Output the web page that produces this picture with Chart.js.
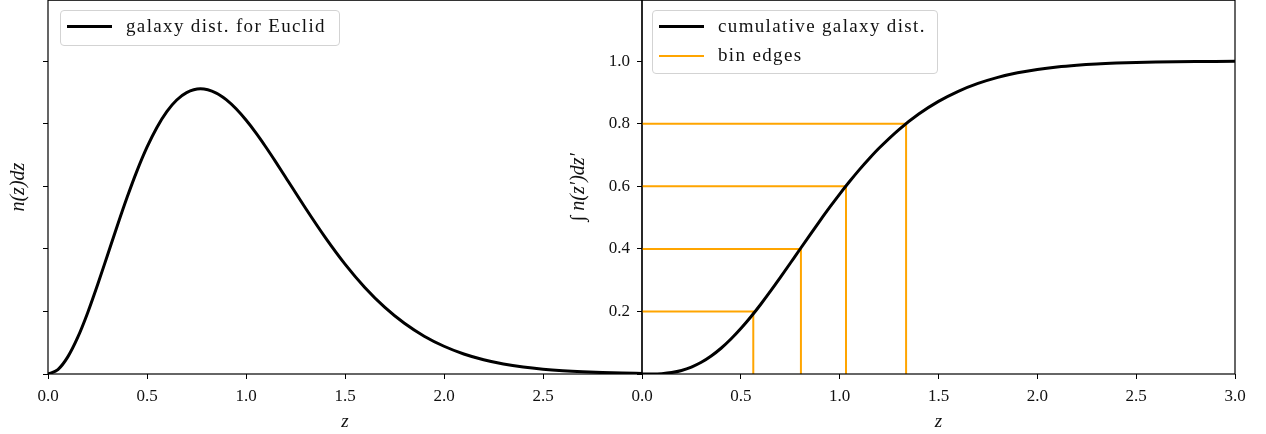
<!DOCTYPE html>
<html lang="en">
<head>
    <meta charset="UTF-8">
    <title>Euclid galaxy distribution</title>
    <script src="https://cdn.jsdelivr.net/npm/chart.js"></script>
    <style>
        body { margin: 0; background: #fff; font-family: "Liberation Serif", serif; }
        #wrap { position: relative; width: 1266px; height: 434px; overflow: hidden; }
        canvas { position: absolute; top: -17px; }
        .legend { position: absolute; border: 1px solid #d3d3d3; border-radius: 4px; background: rgba(255,255,255,0.8); }
        .legend .sw { position: absolute; left: 6px; width: 45px; }
        .legend .tx { position: absolute; left: 65px; font-size: 19px; letter-spacing: 1.35px; color: #111; white-space: nowrap; line-height: 22px; }
    </style>
</head>
<body>
<div id="wrap">
    <canvas id="left" width="650" height="451" style="left:0"></canvas>
    <canvas id="right" width="706" height="451" style="left:560px"></canvas>

    <div class="legend" style="left:60px; top:10px; width:278px; height:34px;">
        <div class="sw" style="top:14px; height:3px; background:#000;"></div>
        <div class="tx" style="top:4px;">galaxy dist. for Euclid</div>
    </div>
    <div class="legend" style="left:652px; top:10px; width:284px; height:62px;">
        <div class="sw" style="top:14px; height:3px; background:#000;"></div>
        <div class="tx" style="top:4px;">cumulative galaxy dist.</div>
        <div class="sw" style="top:44px; height:2px; background:orange;"></div>
        <div class="tx" style="top:33px;">bin edges</div>
    </div>
</div>

<script>
    // redshift grid and values
    const zGrid = [0.0, 0.05, 0.1, 0.15, 0.2, 0.25, 0.3, 0.35, 0.4, 0.45, 0.5, 0.55, 0.6,
                   0.65, 0.7, 0.77, 0.85, 0.9, 0.95, 1.0, 1.05, 1.1, 1.15, 1.2,
                   1.3, 1.4, 1.5, 1.6, 1.7, 1.8, 1.9, 2.0,
                   2.1, 2.2, 2.3, 2.4, 2.5, 2.6, 2.7, 2.8, 2.9, 3.0];
    const nzValues = [0, 0.0142, 0.0547, 0.1168, 0.1952, 0.2844, 0.3790, 0.4741, 0.5657, 0.6503, 0.7251, 0.7883, 0.8388,
                      0.8759, 0.8997, 0.9117, 0.8982, 0.8771, 0.8478, 0.8118, 0.7707, 0.7257, 0.6782, 0.6290,
                      0.5307, 0.4368, 0.3513, 0.2767, 0.2138, 0.1621, 0.1209, 0.0887,
                      0.0640, 0.0456, 0.0320, 0.0221, 0.0151, 0.0102, 0.0068, 0.0045, 0.0029, 0.0019];
    const cdfValues = [0, 0.0001, 0.0012, 0.0046, 0.0113, 0.0221, 0.0374, 0.0575, 0.0823, 0.1117, 0.1452, 0.1822, 0.2223,
                       0.2647, 0.3088, 0.3722, 0.4450, 0.4896, 0.5332, 0.5752, 0.6153, 0.6534, 0.6890, 0.7224,
                       0.7816, 0.8311, 0.8715, 0.9038, 0.9290, 0.9484, 0.9630, 0.9738,
                       0.9818, 0.9874, 0.9914, 0.9942, 0.9962, 0.9975, 0.9984, 0.9990, 0.9994, 0.9996];
    const binLevels = [0.2, 0.4, 0.6, 0.8];
    const binEdges = [0.563, 0.804, 1.032, 1.336];

    const FONT = "'Liberation Serif', serif";

    // draws the box around the plot area
    const frame = {
        id: 'frame',
        afterDraw(chart) {
            const a = chart.chartArea, c = chart.ctx;
            c.save();
            c.strokeStyle = '#000';
            c.lineWidth = 1.2;
            c.strokeRect(a.left, a.top, a.right - a.left, a.bottom - a.top);
            c.restore();
        }
    };

    function axes(yLabel, yWidth, titlePad, showYLabels, hideLastX) {
        return {
            x: {
                type: 'linear', min: 0, max: 3,
                afterFit: s => { s.height = 60; },
                border: { display: false },
                grid: { drawOnChartArea: false, tickLength: 5, tickColor: '#000', tickWidth: 1 },
                ticks: {
                    stepSize: 0.5, color: '#111', padding: 7, maxRotation: 0,
                    font: { family: FONT, size: 17 },
                    callback: v => (hideLastX && v >= 3) ? null : v.toFixed(1)
                },
                title: { display: true, text: 'z', color: '#111', padding: { top: 0, bottom: 1 },
                         font: { family: FONT, size: 19, style: 'italic' } }
            },
            y: {
                type: 'linear', min: 0, max: 1.195,
                afterFit: s => { s.width = yWidth; },
                border: { display: false },
                grid: { drawOnChartArea: false, tickLength: 5, tickColor: '#000', tickWidth: 1 },
                ticks: {
                    stepSize: 0.2, color: '#111', padding: 7,
                    font: { family: FONT, size: 17 },
                    callback: v => {
                        if (Math.abs(v * 5 - Math.round(v * 5)) > 1e-6) return null;
                        if (v === 0 && showYLabels) return '';
                        return showYLabels ? v.toFixed(1) : '';
                    }
                },
                title: { display: true, text: yLabel, color: '#111', padding: { top: titlePad, bottom: 0 },
                         font: { family: FONT, size: 20, style: 'italic' } }
            }
        };
    }

    const pts = vals => zGrid.map((z, i) => ({ x: z, y: vals[i] }));

    new Chart(document.getElementById('left'), {
        type: 'line',
        data: {
            datasets: [{
                data: pts(nzValues), borderColor: '#000', borderWidth: 3,
                pointRadius: 0, cubicInterpolationMode: 'monotone'
            }]
        },
        options: {
            responsive: false, animation: false,
            layout: { padding: { left: 0, right: 8, top: 0, bottom: 0 } },
            plugins: { legend: { display: false }, tooltip: { enabled: false } },
            scales: axes('n(z)dz', 48, 7, false, true)
        },
        plugins: [frame]
    });

    const binSets = binEdges.map((e, i) => ({
        data: [{ x: 0, y: binLevels[i] }, { x: e, y: binLevels[i] }, { x: e, y: 0 }],
        borderColor: 'orange', borderWidth: 2, pointRadius: 0, tension: 0
    }));

    new Chart(document.getElementById('right'), {
        type: 'line',
        data: {
            datasets: [{
                data: pts(cdfValues), borderColor: '#000', borderWidth: 3,
                pointRadius: 0, cubicInterpolationMode: 'monotone'
            }].concat(binSets)
        },
        options: {
            responsive: false, animation: false,
            layout: { padding: { left: 0, right: 31, top: 0, bottom: 0 } },
            plugins: { legend: { display: false }, tooltip: { enabled: false } },
            scales: axes("\u222B n(z\u2032)dz\u2032", 82, 7, true, false)
        },
        plugins: [frame]
    });
</script>
</body>
</html>
